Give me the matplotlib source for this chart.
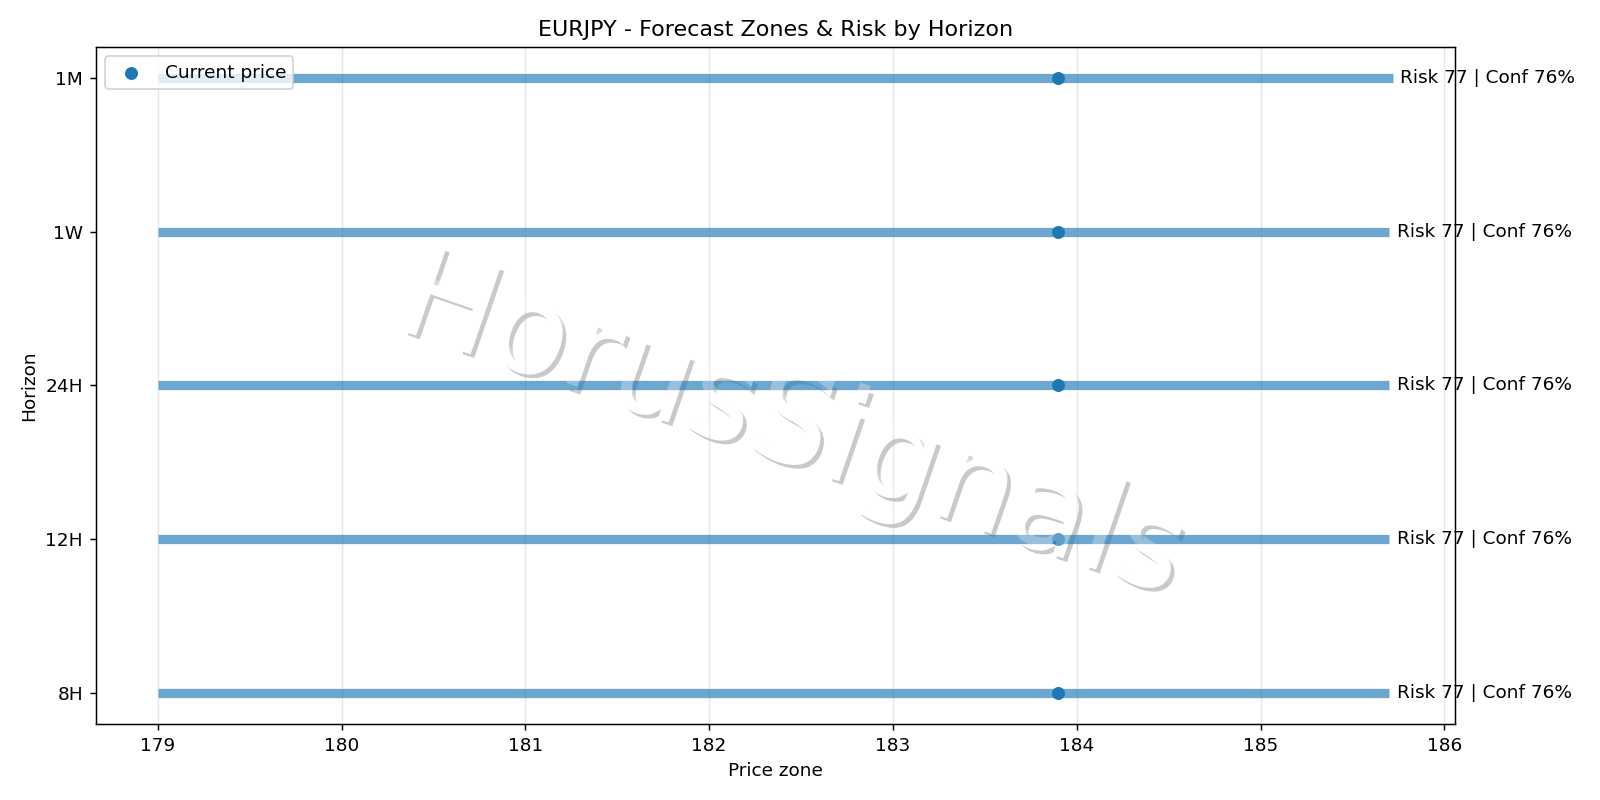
#!/usr/bin/env python
import matplotlib
matplotlib.use("Agg")
import matplotlib.pyplot as plt
import matplotlib.patheffects as pe

# Dados
horizontes = ['8H', '12H', '24H', '1W', '1M']
zona_min = [179.00, 179.00, 179.00, 179.00, 179.00]
zona_max = [185.70, 185.70, 185.70, 185.70, 185.72]
preco_atual = [183.90, 183.90, 183.90, 183.90, 183.90]
risco = [77, 77, 77, 77, 77]
confianca = [76, 76, 76, 76, 76]


def grafico_zonas(simbolo):
    fig, ax = plt.subplots(figsize=(12, 6), dpi=400 / 3)
    posicoes = list(range(len(horizontes)))

    ax.hlines(posicoes, zona_min, zona_max, linewidth=5, alpha=0.65, color='C0')
    ax.scatter(preco_atual, posicoes, color='C0', zorder=3, label='Current price')

    for y, xmax, r, c in zip(posicoes, zona_max, risco, confianca):
        ax.text(xmax + 0.04, y, f"Risk {r} | Conf {c}%", va='center')

    ax.set_yticks(posicoes)
    ax.set_yticklabels(horizontes)
    ax.set_title(f"{simbolo} - Forecast Zones & Risk by Horizon")
    ax.set_xlabel('Price zone')
    ax.set_ylabel('Horizon')
    ax.grid(axis='x', alpha=0.3)
    ax.legend(loc='upper left')
    fig.tight_layout()

    # marca d'agua: sombra + corpo branco por baixo das linhas, veu branco por cima
    marca = dict(fontsize=68, rotation=-19, ha='center', va='center',
                 transform=fig.transFigure)
    ax.text(0.495, 0.465, 'HorusSignals', color='white', zorder=1,
            path_effects=[pe.withSimplePatchShadow(offset=(2, -2))], **marca)
    ax.text(0.495, 0.465, 'HorusSignals', color='white', alpha=0.3, zorder=5, **marca)

    fig.savefig('out.png', dpi=400 / 3)


def main():
    grafico_zonas('EURJPY')


if __name__ == "__main__":
    main()
